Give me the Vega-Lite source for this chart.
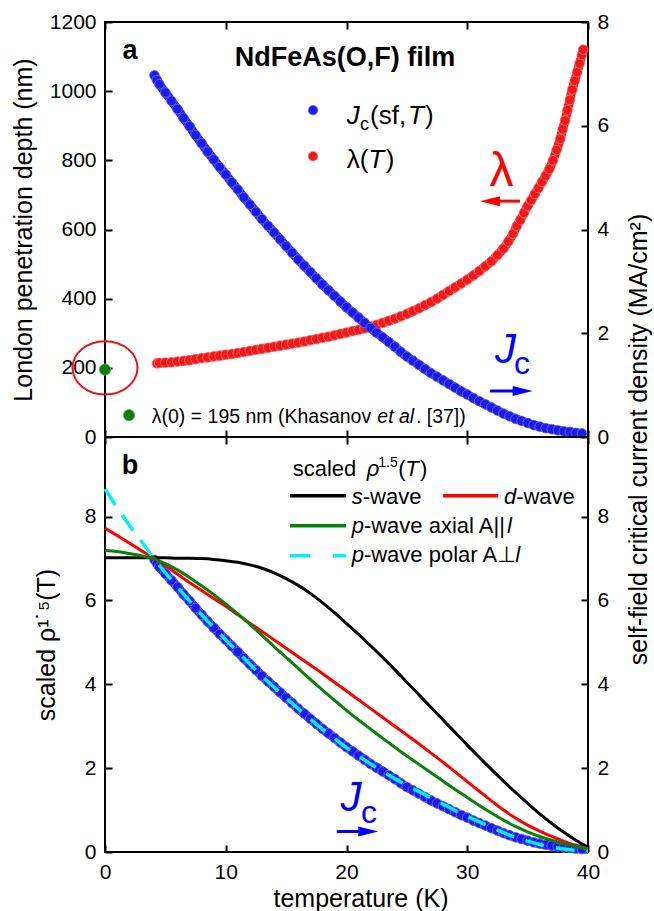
{
  "$schema": "https://vega.github.io/schema/vega-lite/v6.json",
  "background": "white",
  "padding": {"left": 9, "top": 10, "right": 2, "bottom": 2},
  "config": {
    "font": "Liberation Sans",
    "view": {"stroke": "black", "strokeWidth": 2},
    "axis": {
      "domain": false, "grid": false, "tickColor": "black", "tickWidth": 2, "tickSize": -7,
      "labelPadding": 16, "labelFontSize": 21, "labelColor": "black", "labelFont": "Liberation Sans",
      "titleFont": "Liberation Sans", "titleFontSize": 25, "titleFontWeight": "normal", "titleColor": "black",
      "labelFlush": false, "labelOverlap": false, "format": "d"
    }
  },
  "datasets": {
    "lam": [
      {"T":4.3,"v":213},{"T":4.5,"v":214},{"T":5,"v":215},{"T":5.5,"v":216},{"T":6,"v":218},{"T":6.5,"v":220},{"T":7,"v":222},{"T":7.5,"v":225},{"T":8,"v":228},{"T":8.5,"v":230},{"T":9,"v":233},{"T":9.5,"v":235},{"T":10,"v":238},{"T":10.5,"v":240},{"T":11,"v":243},{"T":11.5,"v":246},{"T":12,"v":249},{"T":12.5,"v":252},{"T":13,"v":255},{"T":13.5,"v":258},{"T":14,"v":261},{"T":14.5,"v":264},{"T":15,"v":267},{"T":15.5,"v":270},{"T":16,"v":273},{"T":16.5,"v":276},{"T":17,"v":280},{"T":17.5,"v":283},{"T":18,"v":287},{"T":18.5,"v":290},{"T":19,"v":294},{"T":19.5,"v":298},{"T":20,"v":302},{"T":20.5,"v":306},{"T":21,"v":310},{"T":21.5,"v":314},{"T":22,"v":319},{"T":22.5,"v":324},{"T":23,"v":330},{"T":23.5,"v":336},{"T":24,"v":342},{"T":24.5,"v":349},{"T":25,"v":356},{"T":25.5,"v":364},{"T":26,"v":372},{"T":26.5,"v":381},{"T":27,"v":390},{"T":27.5,"v":400},{"T":28,"v":411},{"T":28.5,"v":422},{"T":29,"v":433},{"T":29.5,"v":444},{"T":30,"v":455},{"T":30.5,"v":467},{"T":31,"v":480},{"T":31.5,"v":494},{"T":32,"v":508},{"T":32.5,"v":526},{"T":33,"v":545},{"T":33.4,"v":565},{"T":33.8,"v":588},{"T":34.1,"v":610},{"T":34.4,"v":628},{"T":34.7,"v":648},{"T":35,"v":668},{"T":35.3,"v":685},{"T":35.6,"v":703},{"T":35.9,"v":720},{"T":36.2,"v":738},{"T":36.5,"v":756},{"T":36.8,"v":775},{"T":37.1,"v":800},{"T":37.4,"v":830},{"T":37.7,"v":862},{"T":37.9,"v":890},{"T":38.1,"v":915},{"T":38.3,"v":945},{"T":38.5,"v":975},{"T":38.7,"v":1005},{"T":38.9,"v":1030},{"T":39.1,"v":1055},{"T":39.3,"v":1080},{"T":39.5,"v":1105},{"T":39.6,"v":1120}
    ],
    "jc": [
      {"T":4.1,"v":6.97},{"T":4.3,"v":6.88},{"T":4.5,"v":6.8},{"T":5,"v":6.64},{"T":5.5,"v":6.48},{"T":6,"v":6.32},{"T":6.5,"v":6.15},{"T":7,"v":5.99},{"T":7.5,"v":5.82},{"T":8,"v":5.66},{"T":8.5,"v":5.5},{"T":9,"v":5.35},{"T":9.5,"v":5.2},{"T":10,"v":5.06},{"T":10.5,"v":4.91},{"T":11,"v":4.77},{"T":11.5,"v":4.62},{"T":12,"v":4.48},{"T":12.5,"v":4.34},{"T":13,"v":4.2},{"T":13.5,"v":4.07},{"T":14,"v":3.94},{"T":14.5,"v":3.81},{"T":15,"v":3.68},{"T":15.5,"v":3.55},{"T":16,"v":3.42},{"T":16.5,"v":3.3},{"T":17,"v":3.18},{"T":17.5,"v":3.06},{"T":18,"v":2.94},{"T":18.5,"v":2.83},{"T":19,"v":2.72},{"T":19.5,"v":2.61},{"T":20,"v":2.5},{"T":20.5,"v":2.4},{"T":21,"v":2.3},{"T":21.5,"v":2.2},{"T":22,"v":2.1},{"T":22.5,"v":2.01},{"T":23,"v":1.92},{"T":23.5,"v":1.83},{"T":24,"v":1.74},{"T":24.5,"v":1.64},{"T":25,"v":1.55},{"T":25.5,"v":1.47},{"T":26,"v":1.39},{"T":26.5,"v":1.31},{"T":27,"v":1.23},{"T":27.5,"v":1.16},{"T":28,"v":1.09},{"T":28.5,"v":1.02},{"T":29,"v":0.95},{"T":29.5,"v":0.88},{"T":30,"v":0.82},{"T":30.5,"v":0.75},{"T":31,"v":0.69},{"T":31.5,"v":0.63},{"T":32,"v":0.57},{"T":32.5,"v":0.51},{"T":33,"v":0.45},{"T":33.5,"v":0.4},{"T":34,"v":0.35},{"T":34.5,"v":0.31},{"T":35,"v":0.27},{"T":35.5,"v":0.23},{"T":36,"v":0.2},{"T":36.5,"v":0.17},{"T":37,"v":0.15},{"T":37.5,"v":0.13},{"T":38,"v":0.11},{"T":38.5,"v":0.1},{"T":39,"v":0.08},{"T":39.5,"v":0.07}
    ],
    "curves": [
      {"wave":"s","T":0,"v":7.02},{"wave":"s","T":1,"v":7.02},{"wave":"s","T":2,"v":7.02},{"wave":"s","T":3,"v":7.02},{"wave":"s","T":4,"v":7.02},{"wave":"s","T":5,"v":7.02},{"wave":"s","T":6,"v":7.01},{"wave":"s","T":7,"v":7.01},{"wave":"s","T":8,"v":7.0},{"wave":"s","T":9,"v":6.98},{"wave":"s","T":10,"v":6.95},{"wave":"s","T":11,"v":6.91},{"wave":"s","T":12,"v":6.85},{"wave":"s","T":13,"v":6.77},{"wave":"s","T":14,"v":6.66},{"wave":"s","T":15,"v":6.52},{"wave":"s","T":16,"v":6.36},{"wave":"s","T":17,"v":6.17},{"wave":"s","T":18,"v":5.95},{"wave":"s","T":19,"v":5.71},{"wave":"s","T":20,"v":5.45},{"wave":"s","T":21,"v":5.19},{"wave":"s","T":22,"v":4.92},{"wave":"s","T":23,"v":4.64},{"wave":"s","T":24,"v":4.35},{"wave":"s","T":25,"v":4.05},{"wave":"s","T":26,"v":3.75},{"wave":"s","T":27,"v":3.45},{"wave":"s","T":28,"v":3.15},{"wave":"s","T":29,"v":2.85},{"wave":"s","T":30,"v":2.55},{"wave":"s","T":31,"v":2.26},{"wave":"s","T":32,"v":1.97},{"wave":"s","T":33,"v":1.69},{"wave":"s","T":34,"v":1.42},{"wave":"s","T":35,"v":1.16},{"wave":"s","T":36,"v":0.91},{"wave":"s","T":37,"v":0.68},{"wave":"s","T":38,"v":0.47},{"wave":"s","T":39,"v":0.28},{"wave":"s","T":40,"v":0.12},
      {"wave":"d","T":0,"v":7.72},{"wave":"d","T":1,"v":7.55},{"wave":"d","T":2,"v":7.37},{"wave":"d","T":3,"v":7.19},{"wave":"d","T":4,"v":7.02},{"wave":"d","T":5,"v":6.83},{"wave":"d","T":6,"v":6.63},{"wave":"d","T":7,"v":6.43},{"wave":"d","T":8,"v":6.24},{"wave":"d","T":9,"v":6.05},{"wave":"d","T":10,"v":5.86},{"wave":"d","T":11,"v":5.66},{"wave":"d","T":12,"v":5.46},{"wave":"d","T":13,"v":5.26},{"wave":"d","T":14,"v":5.06},{"wave":"d","T":15,"v":4.86},{"wave":"d","T":16,"v":4.66},{"wave":"d","T":17,"v":4.46},{"wave":"d","T":18,"v":4.26},{"wave":"d","T":19,"v":4.05},{"wave":"d","T":20,"v":3.84},{"wave":"d","T":21,"v":3.63},{"wave":"d","T":22,"v":3.42},{"wave":"d","T":23,"v":3.21},{"wave":"d","T":24,"v":3.0},{"wave":"d","T":25,"v":2.79},{"wave":"d","T":26,"v":2.58},{"wave":"d","T":27,"v":2.36},{"wave":"d","T":28,"v":2.14},{"wave":"d","T":29,"v":1.91},{"wave":"d","T":30,"v":1.68},{"wave":"d","T":31,"v":1.45},{"wave":"d","T":32,"v":1.22},{"wave":"d","T":33,"v":1.0},{"wave":"d","T":34,"v":0.81},{"wave":"d","T":35,"v":0.64},{"wave":"d","T":36,"v":0.5},{"wave":"d","T":37,"v":0.37},{"wave":"d","T":38,"v":0.25},{"wave":"d","T":39,"v":0.15},{"wave":"d","T":40,"v":0.08},
      {"wave":"pa","T":0,"v":7.19},{"wave":"pa","T":1,"v":7.17},{"wave":"pa","T":2,"v":7.12},{"wave":"pa","T":3,"v":7.07},{"wave":"pa","T":4,"v":7.0},{"wave":"pa","T":5,"v":6.88},{"wave":"pa","T":6,"v":6.73},{"wave":"pa","T":7,"v":6.55},{"wave":"pa","T":8,"v":6.35},{"wave":"pa","T":9,"v":6.14},{"wave":"pa","T":10,"v":5.92},{"wave":"pa","T":11,"v":5.68},{"wave":"pa","T":12,"v":5.43},{"wave":"pa","T":13,"v":5.17},{"wave":"pa","T":14,"v":4.9},{"wave":"pa","T":15,"v":4.64},{"wave":"pa","T":16,"v":4.38},{"wave":"pa","T":17,"v":4.12},{"wave":"pa","T":18,"v":3.87},{"wave":"pa","T":19,"v":3.62},{"wave":"pa","T":20,"v":3.38},{"wave":"pa","T":21,"v":3.15},{"wave":"pa","T":22,"v":2.93},{"wave":"pa","T":23,"v":2.71},{"wave":"pa","T":24,"v":2.5},{"wave":"pa","T":25,"v":2.29},{"wave":"pa","T":26,"v":2.09},{"wave":"pa","T":27,"v":1.89},{"wave":"pa","T":28,"v":1.69},{"wave":"pa","T":29,"v":1.49},{"wave":"pa","T":30,"v":1.3},{"wave":"pa","T":31,"v":1.11},{"wave":"pa","T":32,"v":0.93},{"wave":"pa","T":33,"v":0.76},{"wave":"pa","T":34,"v":0.61},{"wave":"pa","T":35,"v":0.48},{"wave":"pa","T":36,"v":0.37},{"wave":"pa","T":37,"v":0.28},{"wave":"pa","T":38,"v":0.2},{"wave":"pa","T":39,"v":0.13},{"wave":"pa","T":40,"v":0.07},
      {"wave":"pp","T":0,"v":8.66},{"wave":"pp","T":1,"v":8.22},{"wave":"pp","T":2,"v":7.8},{"wave":"pp","T":3,"v":7.42},{"wave":"pp","T":4,"v":7.02},{"wave":"pp","T":5,"v":6.66},{"wave":"pp","T":6,"v":6.32},{"wave":"pp","T":7,"v":5.99},{"wave":"pp","T":8,"v":5.66},{"wave":"pp","T":9,"v":5.36},{"wave":"pp","T":10,"v":5.06},{"wave":"pp","T":11,"v":4.77},{"wave":"pp","T":12,"v":4.48},{"wave":"pp","T":13,"v":4.2},{"wave":"pp","T":14,"v":3.93},{"wave":"pp","T":15,"v":3.67},{"wave":"pp","T":16,"v":3.42},{"wave":"pp","T":17,"v":3.17},{"wave":"pp","T":18,"v":2.93},{"wave":"pp","T":19,"v":2.71},{"wave":"pp","T":20,"v":2.49},{"wave":"pp","T":21,"v":2.29},{"wave":"pp","T":22,"v":2.1},{"wave":"pp","T":23,"v":1.92},{"wave":"pp","T":24,"v":1.75},{"wave":"pp","T":25,"v":1.59},{"wave":"pp","T":26,"v":1.44},{"wave":"pp","T":27,"v":1.29},{"wave":"pp","T":28,"v":1.14},{"wave":"pp","T":29,"v":0.99},{"wave":"pp","T":30,"v":0.85},{"wave":"pp","T":31,"v":0.72},{"wave":"pp","T":32,"v":0.59},{"wave":"pp","T":33,"v":0.46},{"wave":"pp","T":34,"v":0.35},{"wave":"pp","T":35,"v":0.26},{"wave":"pp","T":36,"v":0.18},{"wave":"pp","T":37,"v":0.12},{"wave":"pp","T":38,"v":0.07},{"wave":"pp","T":39,"v":0.04},{"wave":"pp","T":40,"v":0.02}
    ],
    "legl": [
      {"wave":"s","T":15.32,"T2":19.96,"v":8.5},
      {"wave":"d","T":28.0,"T2":32.57,"v":8.5},
      {"wave":"pa","T":15.32,"T2":19.96,"v":7.78},
      {"wave":"pp","T":15.32,"T2":19.96,"v":7.07}
    ],
    "ell": [{"T":0,"v":200}],
    "green": [{"T":0,"v":195},{"T":1.99,"v":63}],
    "legBlue": [{"T":17.23,"v":945}],
    "legRed": [{"T":17.23,"v":812}],
    "tA_bold": [{"T":2.07,"v":1092,"label":"a"},{"T":19.88,"v":1072,"label":"NdFeAs(O,F) film"}],
    "tA_norm": [{"T":21.95,"v":904,"label":"(sf,"},{"T":26.5,"v":904,"label":")"},{"T":20.02,"v":778,"label":"λ("},{"T":23.25,"v":778,"label":")"}],
    "tA_ital": [{"T":20.02,"v":904,"label":"J"},{"T":25.1,"v":904,"label":"T"},{"T":21.8,"v":778,"label":"T"}],
    "tA_sub": [{"T":21.12,"v":889,"label":"c"}],
    "tA_small": [{"T":3.87,"v":40.5,"label":"λ(0) = 195 nm (Khasanov"},{"T":25.75,"v":40.5,"label":". [37])"}],
    "tA_smallit": [{"T":22.55,"v":40.5,"label":"et al"}],
    "tA_lam": [{"T":32.84,"v":725,"label":"λ"}],
    "tA_J": [{"T":32.3,"v":213,"label":"J"}],
    "tA_c": [{"T":33.87,"v":181,"label":"c"}],
    "redArrow": [{"T":31.9,"T2":34.37,"v":682}],
    "redHead": [{"T":31.88,"v":682}],
    "blueArrowA": [{"T":31.88,"T2":34.6,"v":133}],
    "blueHeadA": [{"T":34.59,"v":133}],
    "tB_bold": [{"T":2.07,"v":9.02,"label":"b"}],
    "tB_norm": [{"T":15.54,"v":8.98,"label":"scaled"},{"T":24.29,"v":8.98,"label":"("},{"T":26.09,"v":8.98,"label":")"},{"T":21.34,"v":8.29,"label":"-wave"},{"T":34.05,"v":8.29,"label":"-wave"},{"T":21.44,"v":7.62,"label":"-wave axial A||"},{"T":21.44,"v":6.91,"label":"-wave polar A⊥"}],
    "tB_ital": [{"T":21.67,"v":8.98,"label":"ρ"},{"T":24.86,"v":8.98,"label":"T"},{"T":20.43,"v":8.29,"label":"s"},{"T":33.04,"v":8.29,"label":"d"},{"T":20.43,"v":7.62,"label":"p"},{"T":20.43,"v":6.91,"label":"p"},{"T":33.3,"v":7.62,"label":"l"},{"T":33.97,"v":6.91,"label":"l"}],
    "tB_sup": [{"T":22.63,"v":9.18,"label":"1.5"}],
    "tB_J": [{"T":19.51,"v":0.97,"label":"J"}],
    "tB_c": [{"T":21.2,"v":0.69,"label":"c"}],
    "blueArrowB": [{"T":19.19,"T2":21.8,"v":0.49}],
    "blueHeadB": [{"T":21.8,"v":0.49}]
  },
  "spacing": 0,
  "bounds": "flush",
  "vconcat": [
    {
      "width": 483,
      "height": 415,
      "layer": [
        {
          "encoding": {
            "x": {"field": "T", "type": "quantitative", "scale": {"domain": [0, 40], "nice": false},
                  "axis": {"orient": "bottom", "values": [0, 10, 20, 30, 40], "labels": false, "title": null}},
            "y": {"field": "v", "type": "quantitative", "scale": {"domain": [0, 1200], "nice": false},
                  "axis": {"orient": "left", "values": [0, 200, 400, 600, 800, 1000, 1200],
                           "title": "London penetration depth (nm)", "titleX": -82, "titleY": 207.5, "titleAngle": 270, "titleBaseline": "middle"}}
          },
          "layer": [
            {"data": {"name": "lam"}, "mark": {"type": "line", "color": "#f01818", "strokeWidth": 9, "interpolate": "monotone"}},
            {"data": {"name": "lam"}, "mark": {"type": "circle", "size": 95, "color": "#f01818", "stroke": "#ff7a7a", "strokeWidth": 0.8, "opacity": 1}},
            {"data": {"name": "ell"}, "mark": {"type": "point", "shape": "M -1 0 A 1 0.82 0 1 1 1 0 A 1 0.82 0 1 1 -1 0 Z", "size": 4225, "filled": false, "color": "#e8141a", "strokeWidth": 2, "opacity": 1}},
            {"data": {"name": "green"}, "mark": {"type": "circle", "size": 130, "color": "#0b7d0b", "stroke": "#5fb85f", "strokeWidth": 0.8, "opacity": 1}},
            {"data": {"name": "legBlue"}, "mark": {"type": "circle", "size": 90, "color": "#1c1ce8", "stroke": "#7070f5", "strokeWidth": 0.8, "opacity": 1}},
            {"data": {"name": "legRed"}, "mark": {"type": "circle", "size": 90, "color": "#f01818", "stroke": "#ff7a7a", "strokeWidth": 0.8, "opacity": 1}},
            {"data": {"name": "tA_bold"}, "mark": {"type": "text", "fontWeight": "bold", "fontSize": 27, "align": "center", "baseline": "alphabetic", "color": "black"}, "encoding": {"text": {"field": "label"}}},
            {"data": {"name": "tA_norm"}, "mark": {"type": "text", "fontSize": 26, "align": "left", "baseline": "alphabetic", "color": "black"}, "encoding": {"text": {"field": "label"}}},
            {"data": {"name": "tA_ital"}, "mark": {"type": "text", "fontSize": 26, "fontStyle": "italic", "align": "left", "baseline": "alphabetic", "color": "black"}, "encoding": {"text": {"field": "label"}}},
            {"data": {"name": "tA_sub"}, "mark": {"type": "text", "fontSize": 18, "align": "left", "baseline": "alphabetic", "color": "black"}, "encoding": {"text": {"field": "label"}}},
            {"data": {"name": "tA_small"}, "mark": {"type": "text", "fontSize": 19.5, "align": "left", "baseline": "alphabetic", "color": "black"}, "encoding": {"text": {"field": "label"}}},
            {"data": {"name": "tA_smallit"}, "mark": {"type": "text", "fontSize": 19.5, "fontStyle": "italic", "align": "left", "baseline": "alphabetic", "color": "black"}, "encoding": {"text": {"field": "label"}}},
            {"data": {"name": "tA_lam"}, "mark": {"type": "text", "fontSize": 48, "align": "center", "baseline": "alphabetic", "color": "#ff0000"}, "encoding": {"text": {"field": "label"}}},
            {"data": {"name": "tA_J"}, "mark": {"type": "text", "fontSize": 42, "fontStyle": "italic", "align": "left", "baseline": "alphabetic", "color": "#0000ff"}, "encoding": {"text": {"field": "label"}}},
            {"data": {"name": "tA_c"}, "mark": {"type": "text", "fontSize": 32, "align": "left", "baseline": "alphabetic", "color": "#0000ff"}, "encoding": {"text": {"field": "label"}}},
            {"data": {"name": "redArrow"}, "mark": {"type": "rule", "color": "#ff0000", "strokeWidth": 3}, "encoding": {"x2": {"field": "T2"}}},
            {"data": {"name": "redHead"}, "mark": {"type": "point", "shape": "M -1 0 L 1 -0.5 L 1 0.5 Z", "size": 400, "filled": true, "color": "#ff0000", "opacity": 1}},
            {"data": {"name": "blueArrowA"}, "mark": {"type": "rule", "color": "#0000ff", "strokeWidth": 3}, "encoding": {"x2": {"field": "T2"}}},
            {"data": {"name": "blueHeadA"}, "mark": {"type": "point", "shape": "M 1 0 L -1 -0.5 L -1 0.5 Z", "size": 400, "filled": true, "color": "#0000ff", "opacity": 1}}
          ]
        },
        {
          "data": {"name": "jc"},
          "encoding": {
            "x": {"field": "T", "type": "quantitative", "scale": {"domain": [0, 40], "nice": false},
                  "axis": {"orient": "top", "values": [0, 10, 20, 30, 40], "labels": false, "title": null}},
            "y": {"field": "v", "type": "quantitative", "scale": {"domain": [0, 8], "nice": false},
                  "axis": {"orient": "right", "values": [0, 2, 4, 6, 8],
                           "title": "self-field critical current density (MA/cm²)", "titleX": 50.5, "titleY": 417, "titleAngle": 270, "titleBaseline": "middle"}}
          },
          "layer": [
            {"mark": {"type": "line", "color": "#1c1ce8", "strokeWidth": 9, "interpolate": "monotone"}},
            {"mark": {"type": "circle", "size": 95, "color": "#1c1ce8", "stroke": "#7070f5", "strokeWidth": 0.8, "opacity": 1}}
          ]
        }
      ],
      "resolve": {"scale": {"y": "independent"}, "axis": {"x": "independent"}}
    },
    {
      "width": 483,
      "height": 415,
      "layer": [
        {
          "data": {"name": "jc"},
          "encoding": {
            "x": {"field": "T", "type": "quantitative", "scale": {"domain": [0, 40], "nice": false},
                  "axis": {"orient": "top", "values": [0, 10, 20, 30, 40], "labels": false, "title": null}},
            "y": {"field": "v", "type": "quantitative", "scale": {"domain": [0, 9.9], "nice": false},
                  "axis": {"orient": "right", "values": [0, 2, 4, 6, 8], "title": null}}
          },
          "layer": [
            {"mark": {"type": "line", "color": "#1c1ce8", "strokeWidth": 9, "interpolate": "monotone"}},
            {"mark": {"type": "circle", "size": 95, "color": "#1c1ce8", "stroke": "#7070f5", "strokeWidth": 0.8, "opacity": 1}}
          ]
        },
        {
          "encoding": {
            "x": {"field": "T", "type": "quantitative", "scale": {"domain": [0, 40], "nice": false},
                  "axis": {"orient": "bottom", "values": [0, 10, 20, 30, 40], "title": "temperature (K)", "titleX": 255.5, "titleY": 46, "titleBaseline": "middle"}},
            "y": {"field": "v", "type": "quantitative", "scale": {"domain": [0, 9.9], "nice": false},
                  "axis": {"orient": "left", "values": [0, 2, 4, 6, 8],
                           "title": "scaled ρ¹˙⁵(T)", "titleX": -58.3, "titleY": 207.5, "titleAngle": 270, "titleBaseline": "middle"}}
          },
          "layer": [
            {"data": {"name": "curves"}, "transform": [{"filter": "datum.wave == 's'"}], "mark": {"type": "line", "color": "#000000", "strokeWidth": 3, "interpolate": "monotone"}},
            {"data": {"name": "curves"}, "transform": [{"filter": "datum.wave == 'd'"}], "mark": {"type": "line", "color": "#ff0000", "strokeWidth": 3, "interpolate": "monotone"}},
            {"data": {"name": "curves"}, "transform": [{"filter": "datum.wave == 'pa'"}], "mark": {"type": "line", "color": "#0a800a", "strokeWidth": 3, "interpolate": "monotone"}},
            {"data": {"name": "curves"}, "transform": [{"filter": "datum.wave == 'pp'"}], "mark": {"type": "line", "color": "#00f0ff", "strokeWidth": 3.5, "strokeDash": [19, 12], "interpolate": "monotone"}},
            {"data": {"name": "legl"}, "transform": [{"filter": "datum.wave == 's'"}], "mark": {"type": "rule", "color": "#000000", "strokeWidth": 3.5}, "encoding": {"x2": {"field": "T2"}}},
            {"data": {"name": "legl"}, "transform": [{"filter": "datum.wave == 'd'"}], "mark": {"type": "rule", "color": "#ff0000", "strokeWidth": 3.5}, "encoding": {"x2": {"field": "T2"}}},
            {"data": {"name": "legl"}, "transform": [{"filter": "datum.wave == 'pa'"}], "mark": {"type": "rule", "color": "#0a800a", "strokeWidth": 3.5}, "encoding": {"x2": {"field": "T2"}}},
            {"data": {"name": "legl"}, "transform": [{"filter": "datum.wave == 'pp'"}], "mark": {"type": "rule", "color": "#00f0ff", "strokeWidth": 3.5, "strokeDash": [20, 23]}, "encoding": {"x2": {"field": "T2"}}},
            {"data": {"name": "tB_bold"}, "mark": {"type": "text", "fontWeight": "bold", "fontSize": 27, "align": "center", "baseline": "alphabetic", "color": "black"}, "encoding": {"text": {"field": "label"}}},
            {"data": {"name": "tB_norm"}, "mark": {"type": "text", "fontSize": 22, "align": "left", "baseline": "alphabetic", "color": "black"}, "encoding": {"text": {"field": "label"}}},
            {"data": {"name": "tB_ital"}, "mark": {"type": "text", "fontSize": 22, "fontStyle": "italic", "align": "left", "baseline": "alphabetic", "color": "black"}, "encoding": {"text": {"field": "label"}}},
            {"data": {"name": "tB_sup"}, "mark": {"type": "text", "fontSize": 14, "align": "left", "baseline": "alphabetic", "color": "black"}, "encoding": {"text": {"field": "label"}}},
            {"data": {"name": "tB_J"}, "mark": {"type": "text", "fontSize": 42, "fontStyle": "italic", "align": "left", "baseline": "alphabetic", "color": "#0000ff"}, "encoding": {"text": {"field": "label"}}},
            {"data": {"name": "tB_c"}, "mark": {"type": "text", "fontSize": 32, "align": "left", "baseline": "alphabetic", "color": "#0000ff"}, "encoding": {"text": {"field": "label"}}},
            {"data": {"name": "blueArrowB"}, "mark": {"type": "rule", "color": "#0000ff", "strokeWidth": 3}, "encoding": {"x2": {"field": "T2"}}},
            {"data": {"name": "blueHeadB"}, "mark": {"type": "point", "shape": "M 1 0 L -1 -0.5 L -1 0.5 Z", "size": 400, "filled": true, "color": "#0000ff", "opacity": 1}}
          ]
        }
      ],
      "resolve": {"scale": {"y": "independent"}, "axis": {"x": "independent"}}
    }
  ]
}
